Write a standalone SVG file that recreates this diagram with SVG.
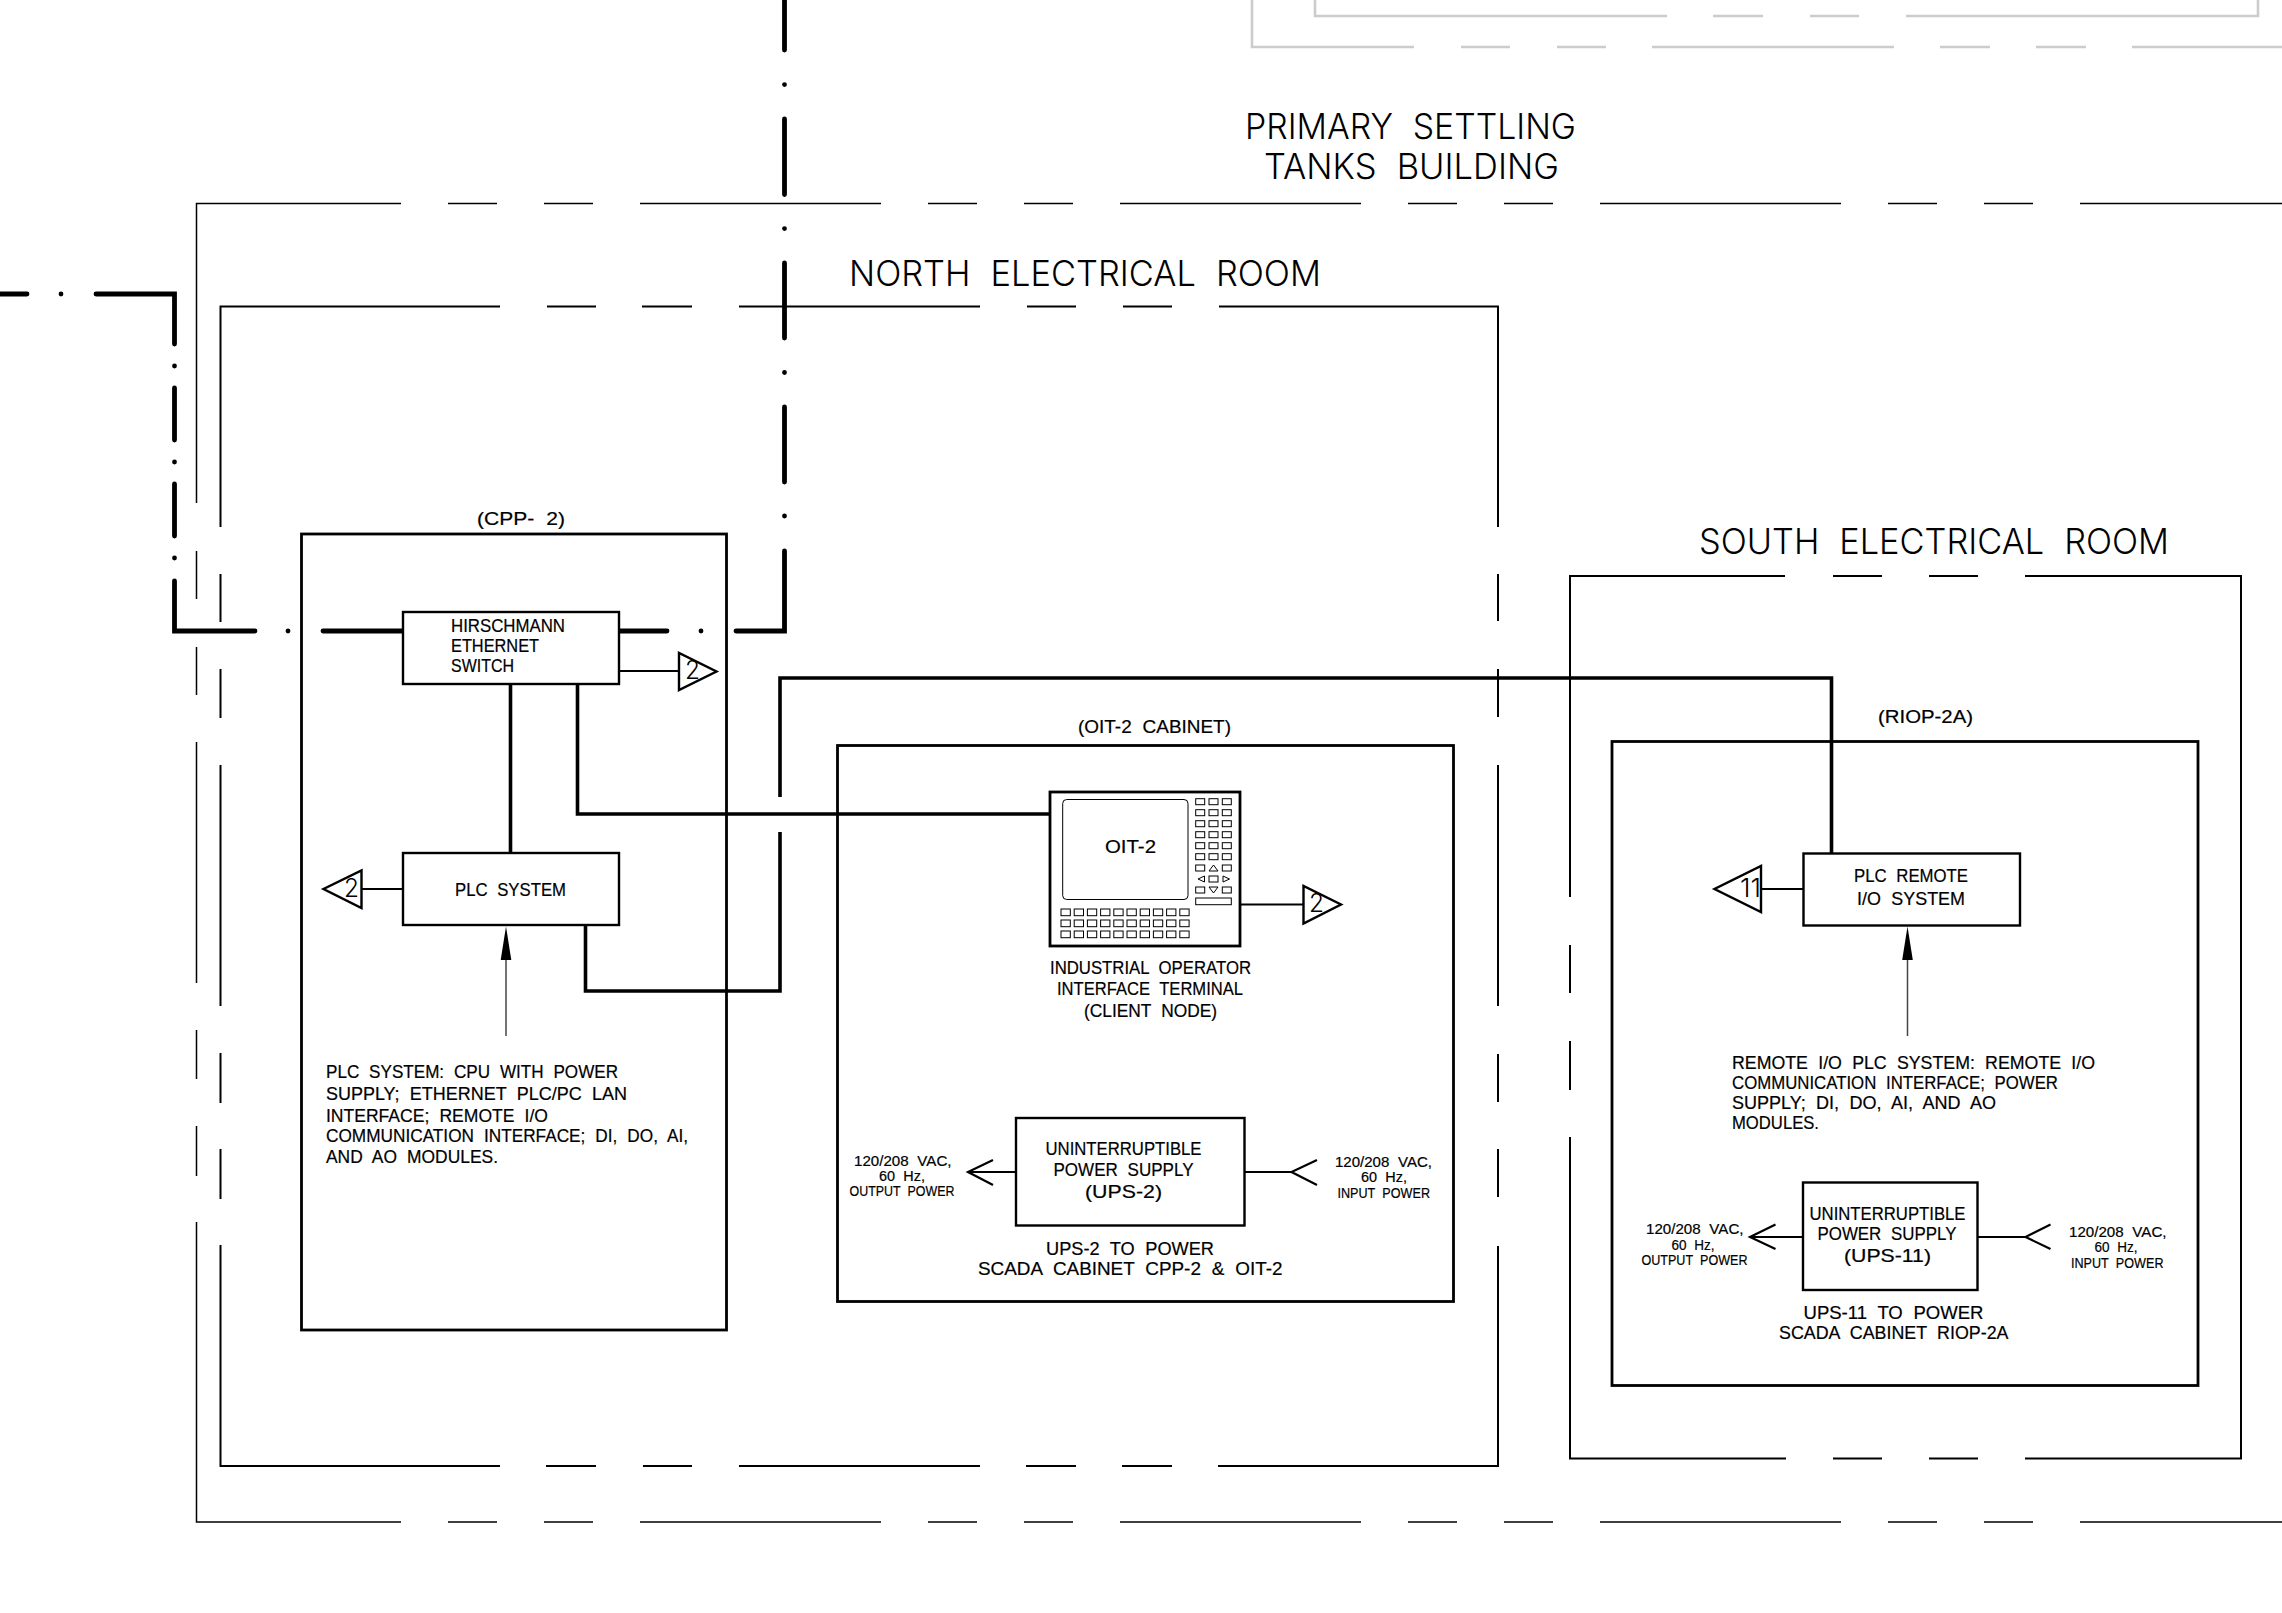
<svg xmlns="http://www.w3.org/2000/svg" xmlns:xlink="http://www.w3.org/1999/xlink" width="2282" height="1613" viewBox="0 0 2282 1613">
<style>
text{font-family:"Liberation Sans",Arial,sans-serif;fill:#000;stroke:#000;stroke-width:.2;word-spacing:.3em;white-space:pre}
.s18{font-size:18.5px}
.s14{font-size:14px}
.big{font-family:"Inter","Roboto","Liberation Sans",sans-serif;font-weight:300;font-size:36px;word-spacing:.3em;stroke:none}
.num{font-family:"Inter","Roboto","Liberation Sans",sans-serif;font-weight:300;font-size:25px;stroke:none}
.wall{fill:none;stroke:#000;stroke-width:1.5}
.room{fill:none;stroke:#000;stroke-width:2}
.old{fill:none;stroke:#ccc;stroke-width:2.6}
.cab{fill:none;stroke:#000;stroke-width:2.8}
.box{fill:#fff;stroke:#000;stroke-width:2.4}
.link{fill:none;stroke:#000;stroke-width:3.6}
.trunk{fill:none;stroke:#000;stroke-width:4.8;stroke-linecap:round;stroke-linejoin:miter}
.tap{fill:none;stroke:#000;stroke-width:2.2}
.tri{fill:none;stroke:#000;stroke-width:2.4}
.lead{fill:none;stroke:#444;stroke-width:1.5}
.key{fill:none;stroke:#000;stroke-width:1}
</style>
<defs>
<rect id="k" class="key" width="9" height="6"/>
<rect id="b" class="key" width="9.3" height="6.7"/>
</defs>
<rect width="2282" height="1613" fill="#fff"/>

<g id="adjacent-building">
<path class="old" d="M1252 0V47H1414M1461 47H1510M1557 47H1606M1652 47H1894M1940 47H1990M2036 47H2086M2132 47H2282"/>
<path class="old" d="M1315 0V16H1667M1713 16H1763M1810 16H1859M1906 16H2258V0"/>
</g>

<g id="primary-settling-tanks-building">
<path class="wall" d="M196.500 503V203.500H401M448 203.500H497M544 203.500H593M640 203.500H881M928 203.500H977M1024 203.500H1073M1120 203.500H1361M1408 203.500H1457M1504 203.500H1553M1600 203.500H1841M1888 203.500H1937M1984 203.500H2033M2080 203.500H2282"/>
<path class="wall" d="M196.500 551V599M196.500 647V695M196.500 742V983M196.500 1030V1079M196.500 1126V1176M196.500 1222V1522H401M448 1522H497M544 1522H593M640 1522H881M928 1522H977M1024 1522H1073M1120 1522H1361M1408 1522H1457M1504 1522H1553M1600 1522H1841M1888 1522H1937M1984 1522H2033M2080 1522H2282"/>
<text class="big" x="1245" y="139" textLength="331" lengthAdjust="spacingAndGlyphs">PRIMARY SETTLING</text>
<text class="big" x="1264" y="179" textLength="295" lengthAdjust="spacingAndGlyphs">TANKS BUILDING</text>
</g>

<g id="north-electrical-room">
<path class="room" d="M220.500 527V306.500H500M547 306.500H596M642 306.500H692M739 306.500H980M1027 306.500H1076M1123 306.500H1172M1219 306.500H1498V527M1498 574V621M1498 669V717M1498 765V1006M1498 1054V1102M1498 1149V1197M1498 1246V1466H1218M1172 1466H1122M1076 1466H1026M980 1466H739M692 1466H643M596 1466H546M500 1466H220.500V1245M220.500 1199V1149M220.500 1103V1053M220.500 1006V765M220.500 718V669M220.500 622V574"/>
<text class="big" x="849" y="286" textLength="472" lengthAdjust="spacingAndGlyphs">NORTH ELECTRICAL ROOM</text>
</g>

<g id="south-electrical-room">
<path class="room" d="M1570 897V576H1785M1833 576H1882M1929 576H1978M2025 576H2241V1458.500H2025M1978 1458.500H1929M1882 1458.500H1833M1786 1458.500H1570V1137M1570 1090V1041M1570 993V945"/>
<text class="big" x="1699" y="554" textLength="470" lengthAdjust="spacingAndGlyphs">SOUTH ELECTRICAL ROOM</text>
</g>

<g id="cpp-2-cabinet">
<rect class="cab" x="301.500" y="534" width="425" height="796"/>
<text class="s18" x="477" y="525" textLength="88" lengthAdjust="spacingAndGlyphs">(CPP- 2)</text>
<text class="s18" x="326" y="1078" textLength="292" lengthAdjust="spacingAndGlyphs">PLC SYSTEM: CPU WITH POWER</text>
<text class="s18" x="326" y="1100" textLength="301" lengthAdjust="spacingAndGlyphs">SUPPLY; ETHERNET PLC/PC LAN</text>
<text class="s18" x="326" y="1122" textLength="222" lengthAdjust="spacingAndGlyphs">INTERFACE; REMOTE I/O</text>
<text class="s18" x="326" y="1142" textLength="362" lengthAdjust="spacingAndGlyphs">COMMUNICATION INTERFACE; DI, DO, AI,</text>
<text class="s18" x="326" y="1163" textLength="172" lengthAdjust="spacingAndGlyphs">AND AO MODULES.</text>
</g>

<g id="oit-2-cabinet">
<rect class="cab" x="837.500" y="745.500" width="616" height="556"/>
<text class="s18" x="1078" y="733" textLength="153" lengthAdjust="spacingAndGlyphs">(OIT-2 CABINET)</text>
</g>

<g id="riop-2a-cabinet">
<rect class="cab" x="1612" y="741.500" width="586" height="644"/>
<text class="s18" x="1878" y="723" textLength="95" lengthAdjust="spacingAndGlyphs">(RIOP-2A)</text>
<text class="s18" x="1732" y="1069" textLength="363" lengthAdjust="spacingAndGlyphs">REMOTE I/O PLC SYSTEM: REMOTE I/O</text>
<text class="s18" x="1732" y="1089" textLength="326" lengthAdjust="spacingAndGlyphs">COMMUNICATION INTERFACE; POWER</text>
<text class="s18" x="1732" y="1109" textLength="264" lengthAdjust="spacingAndGlyphs">SUPPLY; DI, DO, AI, AND AO</text>
<text class="s18" x="1732" y="1129" textLength="87" lengthAdjust="spacingAndGlyphs">MODULES.</text>
</g>

<g id="connectors">
<path class="trunk" d="M-5 294H27M61 294h.01M96 294H174.500V344M174.500 366v.01M174.500 388V440M174.500 462v.01M174.500 484V536M174.500 558v.01M174.500 581V631H255M288 631h.01M323 631H403M619 631H667M701 631h.01M736 631H784.500V551M784.500 516v.01M784.500 482V407M784.500 372.500v.01M784.500 338V263M784.500 228.600v.01M784.500 194.600V119M784.500 84.600v.01M784.500 50V-5"/>
<path class="link" d="M510.500 684V853"/>
<path class="link" d="M577.500 684V814H1050"/>
<path class="link" d="M585.500 925V991H780V832M780 797V678H1831.500V853"/>
<path class="tap" d="M619 671H679"/>
<path class="tap" d="M403 889H362"/>
<path class="tap" d="M1240 904.500H1303"/>
<path class="tap" d="M1803 889H1761"/>
<path class="tap" d="M1016 1172H968M993 1160L968 1172L993 1185"/>
<path class="tap" d="M1244.500 1172H1291.500M1317 1160L1291.500 1172L1317 1185"/>
<path class="tap" d="M1803 1237H1750M1775.500 1224.500L1750 1237L1775.500 1249"/>
<path class="tap" d="M1977.500 1237H2025.500M2050.500 1224.500L2025.500 1237L2050.500 1249"/>
<path class="lead" d="M506 960V1036"/>
<path d="M506 926.500L511.300 960H500.700Z"/>
<path class="lead" d="M1907.500 960V1036"/>
<path d="M1907.500 926.500L1912.800 960H1902.200Z"/>
</g>

<g id="hirschmann-ethernet-switch">
<rect class="box" x="403" y="612" width="216" height="72"/>
<text class="s18" x="451" y="632" textLength="114" lengthAdjust="spacingAndGlyphs">HIRSCHMANN</text>
<text class="s18" x="451" y="652" textLength="88" lengthAdjust="spacingAndGlyphs">ETHERNET</text>
<text class="s18" x="451" y="672" textLength="63" lengthAdjust="spacingAndGlyphs">SWITCH</text>
</g>

<g id="plc-system">
<rect class="box" x="403" y="853" width="216" height="72"/>
<text class="s18" x="455" y="895.500" textLength="111" lengthAdjust="spacingAndGlyphs">PLC SYSTEM</text>
</g>

<g id="ref-2-switch">
<path class="tri" d="M679 653V690L716.500 671.500Z"/>
<text class="num" x="685" y="679" textLength="15" lengthAdjust="spacingAndGlyphs">2</text>
</g>
<g id="ref-2-plc">
<path class="tri" d="M361.500 870.500V908L323.500 889Z"/>
<text class="num" x="344" y="897" textLength="15" lengthAdjust="spacingAndGlyphs">2</text>
</g>
<g id="ref-2-oit">
<path class="tri" d="M1303.500 886V923.500L1341 904.500Z"/>
<text class="num" x="1309" y="912" textLength="15" lengthAdjust="spacingAndGlyphs">2</text>
</g>
<g id="ref-11-remote">
<path class="tri" d="M1761 866V912L1714.500 889Z"/>
<text class="num" x="1740" y="897" textLength="21" lengthAdjust="spacingAndGlyphs">11</text>
</g>

<g id="oit-2">
<rect fill="#fff" stroke="#000" stroke-width="2.800" x="1050" y="792" width="190" height="154"/>
<rect class="key" x="1062.700" y="799.500" width="125.300" height="100" rx="4"/>
<text class="s18" x="1105" y="853" textLength="51" lengthAdjust="spacingAndGlyphs">OIT-2</text>
<use xlink:href="#k" href="#k" x="1195.700" y="798.700"/><use xlink:href="#k" href="#k" x="1209" y="798.700"/><use xlink:href="#k" href="#k" x="1222.300" y="798.700"/>
<use xlink:href="#k" href="#k" x="1195.700" y="809.700"/><use xlink:href="#k" href="#k" x="1209" y="809.700"/><use xlink:href="#k" href="#k" x="1222.300" y="809.700"/>
<use xlink:href="#k" href="#k" x="1195.700" y="820.700"/><use xlink:href="#k" href="#k" x="1209" y="820.700"/><use xlink:href="#k" href="#k" x="1222.300" y="820.700"/>
<use xlink:href="#k" href="#k" x="1195.700" y="831.700"/><use xlink:href="#k" href="#k" x="1209" y="831.700"/><use xlink:href="#k" href="#k" x="1222.300" y="831.700"/>
<use xlink:href="#k" href="#k" x="1195.700" y="842.700"/><use xlink:href="#k" href="#k" x="1209" y="842.700"/><use xlink:href="#k" href="#k" x="1222.300" y="842.700"/>
<use xlink:href="#k" href="#k" x="1195.700" y="853.700"/><use xlink:href="#k" href="#k" x="1209" y="853.700"/><use xlink:href="#k" href="#k" x="1222.300" y="853.700"/>
<use xlink:href="#k" href="#k" x="1195.700" y="865"/><path class="key" d="M1209 871L1213.500 865L1218 871Z"/><use xlink:href="#k" href="#k" x="1222.300" y="865"/>
<path class="key" d="M1204.500 876L1198 879L1204.500 882Z"/><use xlink:href="#k" href="#k" x="1209" y="876"/><path class="key" d="M1223 876L1229.500 879L1223 882Z"/>
<use xlink:href="#k" href="#k" x="1195.700" y="887"/><path class="key" d="M1209 887L1213.500 893L1218 887Z"/><use xlink:href="#k" href="#k" x="1222.300" y="887"/>
<rect class="key" x="1195.700" y="898" width="35.600" height="6.700"/>
<use xlink:href="#b" href="#b" x="1061" y="909"/><use xlink:href="#b" href="#b" x="1074.200" y="909"/><use xlink:href="#b" href="#b" x="1087.400" y="909"/><use xlink:href="#b" href="#b" x="1100.600" y="909"/><use xlink:href="#b" href="#b" x="1113.800" y="909"/><use xlink:href="#b" href="#b" x="1127" y="909"/><use xlink:href="#b" href="#b" x="1140.200" y="909"/><use xlink:href="#b" href="#b" x="1153.400" y="909"/><use xlink:href="#b" href="#b" x="1166.600" y="909"/><use xlink:href="#b" href="#b" x="1179.800" y="909"/>
<use xlink:href="#b" href="#b" x="1061" y="920"/><use xlink:href="#b" href="#b" x="1074.200" y="920"/><use xlink:href="#b" href="#b" x="1087.400" y="920"/><use xlink:href="#b" href="#b" x="1100.600" y="920"/><use xlink:href="#b" href="#b" x="1113.800" y="920"/><use xlink:href="#b" href="#b" x="1127" y="920"/><use xlink:href="#b" href="#b" x="1140.200" y="920"/><use xlink:href="#b" href="#b" x="1153.400" y="920"/><use xlink:href="#b" href="#b" x="1166.600" y="920"/><use xlink:href="#b" href="#b" x="1179.800" y="920"/>
<use xlink:href="#b" href="#b" x="1061" y="931"/><use xlink:href="#b" href="#b" x="1074.200" y="931"/><use xlink:href="#b" href="#b" x="1087.400" y="931"/><use xlink:href="#b" href="#b" x="1100.600" y="931"/><use xlink:href="#b" href="#b" x="1113.800" y="931"/><use xlink:href="#b" href="#b" x="1127" y="931"/><use xlink:href="#b" href="#b" x="1140.200" y="931"/><use xlink:href="#b" href="#b" x="1153.400" y="931"/><use xlink:href="#b" href="#b" x="1166.600" y="931"/><use xlink:href="#b" href="#b" x="1179.800" y="931"/>
<text class="s18" x="1050" y="974" textLength="201" lengthAdjust="spacingAndGlyphs">INDUSTRIAL OPERATOR</text>
<text class="s18" x="1057" y="995" textLength="186" lengthAdjust="spacingAndGlyphs">INTERFACE TERMINAL</text>
<text class="s18" x="1084" y="1017" textLength="133" lengthAdjust="spacingAndGlyphs">(CLIENT NODE)</text>
</g>

<g id="ups-2">
<rect class="box" x="1016" y="1118" width="228.500" height="107.500"/>
<text class="s18" x="1045.500" y="1155" textLength="156" lengthAdjust="spacingAndGlyphs">UNINTERRUPTIBLE</text>
<text class="s18" x="1053.500" y="1176" textLength="140" lengthAdjust="spacingAndGlyphs">POWER SUPPLY</text>
<text class="s18" x="1085" y="1198" textLength="77" lengthAdjust="spacingAndGlyphs">(UPS-2)</text>
<text class="s18" x="1046" y="1254.500" textLength="168" lengthAdjust="spacingAndGlyphs">UPS-2 TO POWER</text>
<text class="s18" x="978" y="1275" textLength="304.500" lengthAdjust="spacingAndGlyphs">SCADA CABINET CPP-2 &amp; OIT-2</text>
<text class="s14" x="854" y="1165.500" textLength="97.500" lengthAdjust="spacingAndGlyphs">120/208 VAC,</text>
<text class="s14" x="879" y="1180.500" textLength="46" lengthAdjust="spacingAndGlyphs">60 Hz,</text>
<text class="s14" x="849.500" y="1196" textLength="105" lengthAdjust="spacingAndGlyphs">OUTPUT POWER</text>
<text class="s14" x="1335" y="1167" textLength="97" lengthAdjust="spacingAndGlyphs">120/208 VAC,</text>
<text class="s14" x="1361" y="1182" textLength="46" lengthAdjust="spacingAndGlyphs">60 Hz,</text>
<text class="s14" x="1337.500" y="1197.500" textLength="92.500" lengthAdjust="spacingAndGlyphs">INPUT POWER</text>
</g>

<g id="plc-remote-io">
<rect class="box" x="1803.500" y="853.500" width="216.500" height="72"/>
<text class="s18" x="1854" y="882" textLength="114" lengthAdjust="spacingAndGlyphs">PLC REMOTE</text>
<text class="s18" x="1857" y="904.500" textLength="108" lengthAdjust="spacingAndGlyphs">I/O SYSTEM</text>
</g>

<g id="ups-11">
<rect class="box" x="1803" y="1182.500" width="174.500" height="107.500"/>
<text class="s18" x="1809.500" y="1220" textLength="156" lengthAdjust="spacingAndGlyphs">UNINTERRUPTIBLE</text>
<text class="s18" x="1817.500" y="1240" textLength="139" lengthAdjust="spacingAndGlyphs">POWER SUPPLY</text>
<text class="s18" x="1844" y="1262" textLength="87" lengthAdjust="spacingAndGlyphs">(UPS-11)</text>
<text class="s18" x="1803.500" y="1319" textLength="180" lengthAdjust="spacingAndGlyphs">UPS-11 TO POWER</text>
<text class="s18" x="1779" y="1339" textLength="229.500" lengthAdjust="spacingAndGlyphs">SCADA CABINET RIOP-2A</text>
<text class="s14" x="1646" y="1234" textLength="97.500" lengthAdjust="spacingAndGlyphs">120/208 VAC,</text>
<text class="s14" x="1671.500" y="1249.500" textLength="43" lengthAdjust="spacingAndGlyphs">60 Hz,</text>
<text class="s14" x="1641.500" y="1265" textLength="106" lengthAdjust="spacingAndGlyphs">OUTPUT POWER</text>
<text class="s14" x="2069" y="1237" textLength="97.500" lengthAdjust="spacingAndGlyphs">120/208 VAC,</text>
<text class="s14" x="2094.500" y="1252" textLength="43" lengthAdjust="spacingAndGlyphs">60 Hz,</text>
<text class="s14" x="2071" y="1268" textLength="92.500" lengthAdjust="spacingAndGlyphs">INPUT POWER</text>
</g>
</svg>
